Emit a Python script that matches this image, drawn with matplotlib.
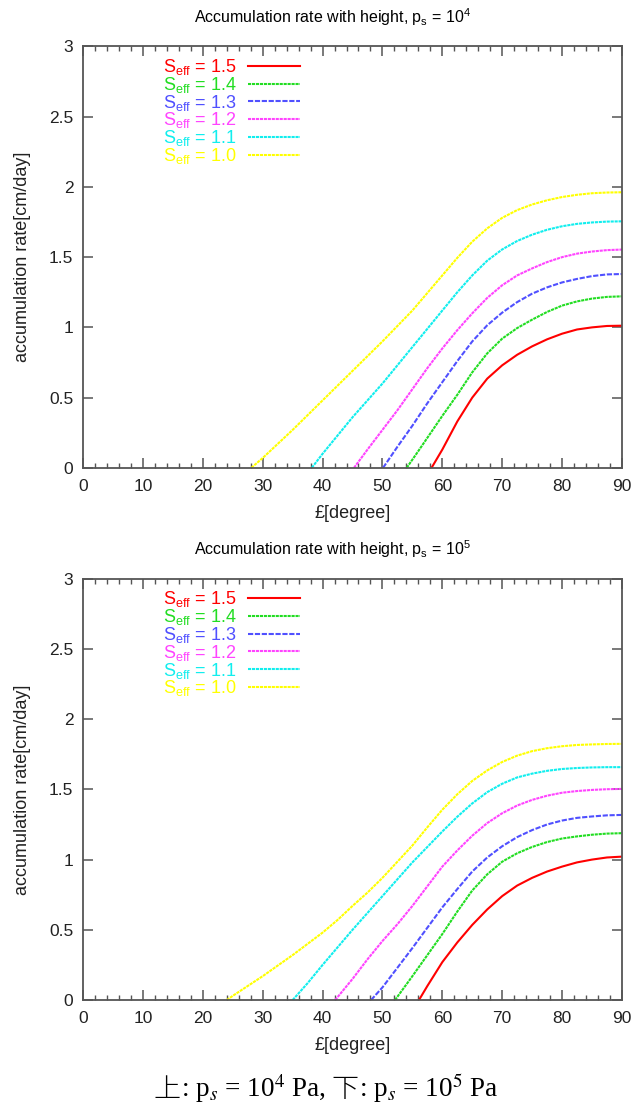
import matplotlib
matplotlib.use("Agg")
import matplotlib.pyplot as plt
from matplotlib.ticker import MultipleLocator

plt.rcParams['font.family'] = ['Liberation Sans', 'DejaVu Sans']

labels = ["1.5", "1.4", "1.3", "1.2", "1.1", "1.0"]
colors = ["#ff0000", "#22dd22", "#5050ff", "#ff44ff", "#11eeee", "#ffff00"]
styles = ["-", (0, (1.5, 0.4)), (0, (2.5, 0.8)), (0, (1.5, 0.4)), (0, (1.5, 0.4)), (0, (1.5, 0.4))]

# top panel, p_s = 1e4
top_x = [
    [58.2, 60, 62.5, 65, 67.5, 70, 72.5, 75, 77.5, 80, 82.5, 85, 87.5, 90],
    [54.05, 56, 58, 60, 62.5, 65, 67.5, 70, 72.5, 75, 77.5, 80, 82.5, 85, 87.5, 90],
    [50.1, 52.5, 55, 57.5, 60, 62.5, 65, 67.5, 70, 72.5, 75, 77.5, 80, 82.5, 85, 87.5, 90],
    [45.25, 47.5, 50, 52.5, 55, 57.5, 60, 62.5, 65, 67.5, 70, 72.5, 75, 77.5, 80, 82.5, 85, 87.5, 90],
    [38.2, 40, 42.5, 45, 47.5, 50, 52.5, 55, 57.5, 60, 62.5, 65, 67.5, 70, 72.5, 75, 77.5, 80,
     82.5, 85, 87.5, 90],
    [28.1, 30, 32.5, 35, 37.5, 40, 42.5, 45, 47.5, 50, 52.5, 55, 57.5, 60, 62.5, 65, 67.5, 70,
     72.5, 75, 77.5, 80, 82.5, 85, 87.5, 90],
]
top_y = [
    [0, 0.13, 0.33, 0.50, 0.635, 0.73, 0.805, 0.865, 0.915, 0.955, 0.985, 1.0, 1.01, 1.012],
    [0, 0.12, 0.245, 0.37, 0.52, 0.68, 0.815, 0.92, 0.995, 1.055, 1.11, 1.155, 1.185, 1.205, 1.217,
     1.221],
    [0, 0.15, 0.30, 0.46, 0.61, 0.76, 0.90, 1.015, 1.105, 1.18, 1.24, 1.285, 1.32, 1.345, 1.365,
     1.377, 1.38],
    [0, 0.13, 0.27, 0.41, 0.56, 0.71, 0.85, 0.98, 1.10, 1.21, 1.30, 1.37, 1.42, 1.465, 1.50,
     1.525, 1.54, 1.55, 1.554],
    [0, 0.10, 0.23, 0.36, 0.48, 0.60, 0.73, 0.86, 0.99, 1.12, 1.25, 1.37, 1.475, 1.555, 1.615,
     1.66, 1.695, 1.72, 1.737, 1.747, 1.753, 1.755],
    [0, 0.07, 0.17, 0.27, 0.375, 0.48, 0.585, 0.69, 0.795, 0.90, 1.01, 1.12, 1.245, 1.37, 1.495,
     1.61, 1.705, 1.78, 1.835, 1.875, 1.905, 1.928, 1.944, 1.955, 1.96, 1.962],
]

# bottom panel, p_s = 1e5
bot_x = [
    [56.1, 57.5, 60, 62.5, 65, 67.5, 70, 72.5, 75, 77.5, 80, 82.5, 85, 87.5, 90],
    [52.1, 55, 57.5, 60, 62.5, 65, 67.5, 70, 72.5, 75, 77.5, 80, 82.5, 85, 87.5, 90],
    [48.1, 50, 52.5, 55, 57.5, 60, 62.5, 65, 67.5, 70, 72.5, 75, 77.5, 80, 82.5, 85, 87.5, 90],
    [42.1, 45, 47.5, 50, 52.5, 55, 57.5, 60, 62.5, 65, 67.5, 70, 72.5, 75, 77.5, 80, 82.5, 85,
     87.5, 90],
    [35.0, 37.5, 40, 42.5, 45, 47.5, 50, 52.5, 55, 57.5, 60, 62.5, 65, 67.5, 70, 72.5, 75, 77.5,
     80, 82.5, 85, 87.5, 90],
    [24.0, 25, 27.5, 30, 32.5, 35, 37.5, 40, 42.5, 45, 47.5, 50, 52.5, 55, 57.5, 60, 62.5, 65,
     67.5, 70, 72.5, 75, 77.5, 80, 82.5, 85, 87.5, 90],
]
bot_y = [
    [0, 0.10, 0.27, 0.41, 0.535, 0.645, 0.74, 0.815, 0.87, 0.915, 0.95, 0.98, 1.0, 1.015, 1.021],
    [0, 0.17, 0.32, 0.47, 0.63, 0.78, 0.895, 0.985, 1.045, 1.09, 1.125, 1.15, 1.165, 1.177, 1.185,
     1.188],
    [0, 0.09, 0.23, 0.37, 0.515, 0.66, 0.79, 0.915, 1.015, 1.095, 1.16, 1.21, 1.25, 1.278, 1.297,
     1.307, 1.315, 1.318],
    [0, 0.15, 0.29, 0.42, 0.54, 0.67, 0.81, 0.95, 1.065, 1.17, 1.26, 1.33, 1.385, 1.425, 1.455,
     1.476, 1.488, 1.496, 1.501, 1.503],
    [0, 0.12, 0.25, 0.375, 0.50, 0.62, 0.74, 0.86, 0.98, 1.09, 1.20, 1.305, 1.40, 1.48, 1.54,
     1.585, 1.612, 1.632, 1.645, 1.652, 1.656, 1.658, 1.658],
    [0, 0.03, 0.10, 0.17, 0.245, 0.32, 0.40, 0.48, 0.57, 0.67, 0.765, 0.87, 0.985, 1.10, 1.23,
     1.355, 1.465, 1.56, 1.635, 1.695, 1.74, 1.772, 1.793, 1.807, 1.816, 1.82, 1.823, 1.824],
]

titles = [r"Accumulation rate with height, p$_\mathregular{s}$ = 10$^\mathregular{4}$",
          r"Accumulation rate with height, p$_\mathregular{s}$ = 10$^\mathregular{5}$"]

fig = plt.figure(figsize=(6.34, 11.06), dpi=100)
ax1 = fig.add_axes([0.131, 0.577, 0.850, 0.381])
ax2 = fig.add_axes([0.131, 0.0958, 0.850, 0.381])

for ax, xs, ys, title in [(ax1, top_x, top_y, titles[0]), (ax2, bot_x, bot_y, titles[1])]:
    for x, y, c, ls, lab in zip(xs, ys, colors, styles, labels):
        ax.plot(x, y, color=c, ls=ls, lw=1.5, label=r"S$_\mathregular{eff}$ = " + lab)
    ax.set_xlim(0, 90)
    ax.set_ylim(0, 3)
    ax.xaxis.set_major_locator(MultipleLocator(10))
    ax.xaxis.set_minor_locator(MultipleLocator(2))
    ax.yaxis.set_major_locator(MultipleLocator(0.5))
    ax.yaxis.set_major_formatter(plt.FuncFormatter(lambda v, p: "%g" % v))
    ax.tick_params(which='both', direction='in', top=True, right=True, color='#555555',
                   labelsize=12.5, labelcolor='#222222')
    ax.tick_params(axis='x', pad=8)
    ax.tick_params(axis='y', pad=7)
    ax.tick_params(which='major', length=7, width=1.1)
    ax.tick_params(which='minor', length=3.5, width=1.0)
    for s in ax.spines.values():
        s.set_color('#555555')
        s.set_linewidth(1.3)
    ax.set_title(title, fontsize=11.5, pad=17, x=0.463)
    ax.set_xlabel("£[degree]", fontsize=13, labelpad=8, color='#222222')
    ax.set_ylabel("accumulation rate[cm/day]", fontsize=13, labelpad=13, color='#222222')
    ax.legend(loc='upper right', bbox_to_anchor=(0.4026, 0.975), frameon=False, markerfirst=False,
              labelcolor='linecolor', fontsize=13, handlelength=2.9, handletextpad=0.6,
              labelspacing=-0.12, borderpad=0, borderaxespad=0)

# caption, drawn piece by piece so the CJK glyphs get their own font
pieces = [("上", "cjk"), (r": p$_s$ = 10$^4$ Pa,", "serif"), (" 下", "cjk"),
          (r": p$_s$ = 10$^5$ Pa", "serif")]
renderer = fig.canvas.get_renderer()
texts = []
for s, kind in pieces:
    if kind == "cjk":
        t = fig.text(0, 0.008, s, fontsize=19.5, family=['Noto Sans CJK JP'], va='baseline',
                     weight='light')
    else:
        t = fig.text(0, 0.008, s, fontsize=19.5, family=['Liberation Serif'], va='baseline',
                     math_fontfamily='stix')
    texts.append(t)
widths = [t.get_window_extent(renderer).width / fig.bbox.width for t in texts]
x0 = 0.514 - sum(widths) / 2
for t, w in zip(texts, widths):
    t.set_x(x0)
    x0 += w

fig.savefig("out.png", dpi=100)
